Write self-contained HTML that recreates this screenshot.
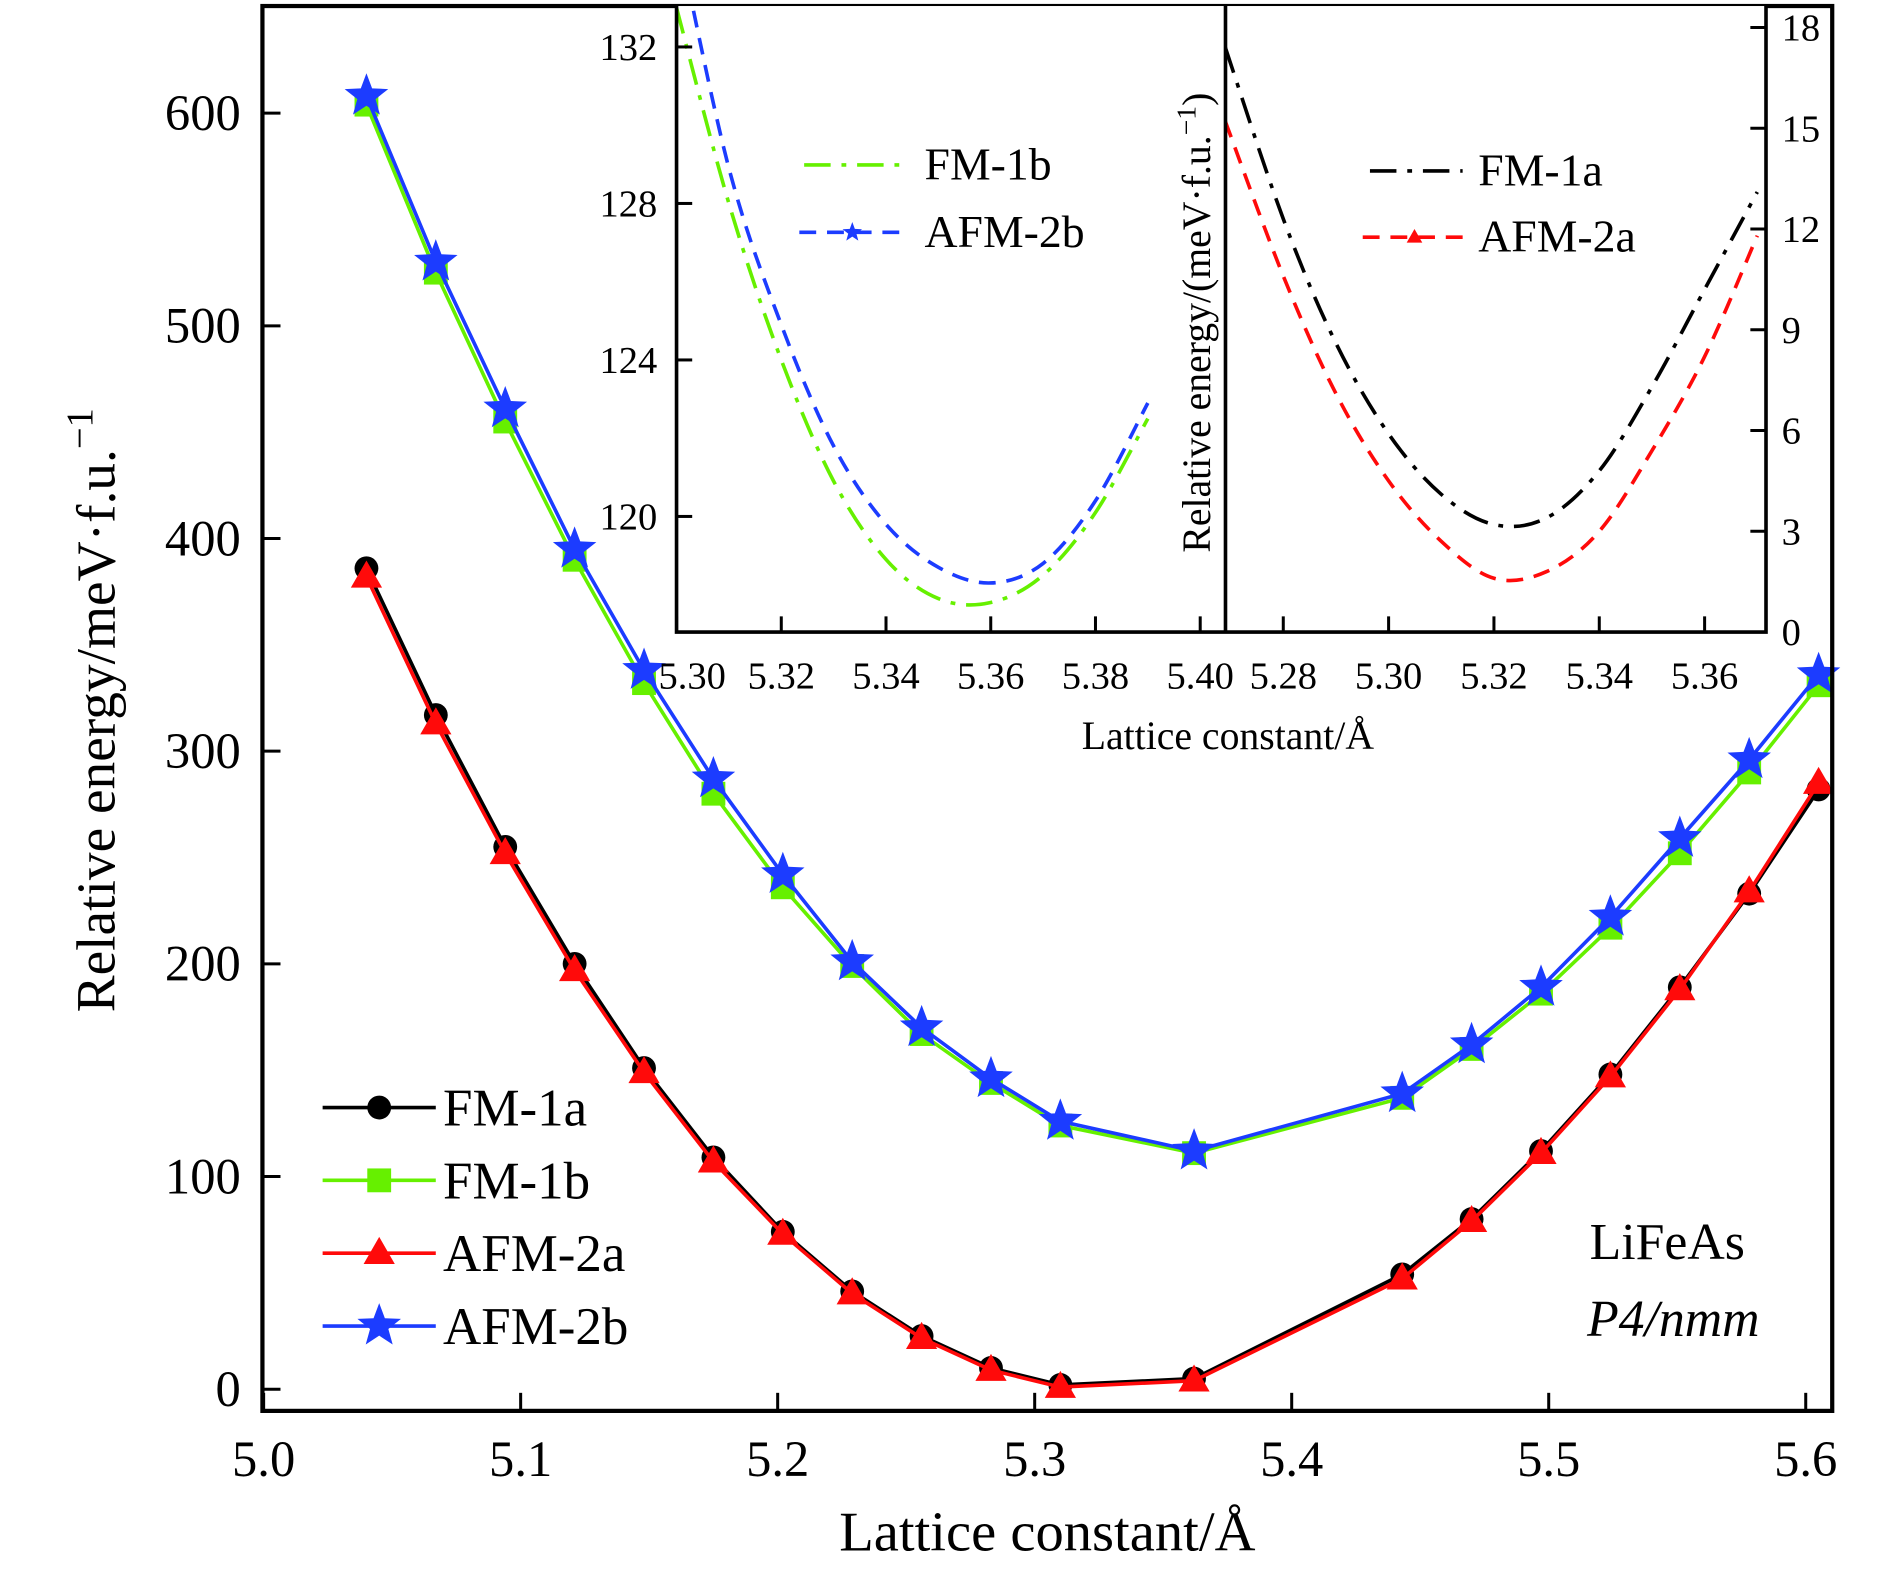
<!DOCTYPE html>
<html><head><meta charset="utf-8"><style>
html,body{margin:0;padding:0;background:#fff;}
svg{display:block;}
text{font-family:"Liberation Serif",serif;fill:#000;}
</style></head><body>
<svg id="chart" width="1890" height="1571" viewBox="0 0 1570 1305" xmlns="http://www.w3.org/2000/svg">
<defs>
<clipPath id="clipL"><rect x="562" y="5" width="456" height="520"/></clipPath>
<clipPath id="clipR"><rect x="1018" y="5" width="449" height="520"/></clipPath>
</defs>
<g id="main"></g>
<g id="inset"></g>
</svg>
<script>
// ---- main chart data ----
const latticeX = [5.04,5.067,5.094,5.121,5.148,5.175,5.202,5.229,5.256,5.283,5.31,5.362,5.443,5.47,5.497,5.524,5.551,5.578,5.605];
const fm1a  = [386,317,255,200,151,109,74,46,25,10,2,5,54,80,112,148,189,233,282];
const afm2a = [382,313,252,197,149,107,73,45,24,9,1,4,52,79,111,147,188,234,285];
const fm1b  = [604,525,455,390,332,280,236,199,167,144,124,111,137,160,186,217,252,290,331];
const afm2b = [608,530,461,395,338,287,242,201,170,146,126,112,139,162,189,222,259,296,336];
const xTicks = [5.0,5.1,5.2,5.3,5.4,5.5,5.6];
const xTickLabels = ["5.0","5.1","5.2","5.3","5.4","5.5","5.6"];
const yTicks = [0,100,200,300,400,500,600];
// ---- inset left data ----
const insetLX = [5.30,5.31,5.32,5.33,5.34,5.35,5.36,5.37,5.38,5.39];
const insetFm1b  = [133.0,128.0,124.0,120.9,118.9,117.9,117.8,118.5,120.1,122.5];
const insetAfm2b = [135.0,128.9,124.9,121.8,119.8,118.7,118.3,118.8,120.4,122.9];
const insetLXTicks = [5.30,5.32,5.34,5.36,5.38,5.40];
const insetLXLabels = ["5.30","5.32","5.34","5.36","5.38","5.40"];
const insetLYTicks = [120,124,128,132];
// ---- inset right data ----
const insetRX1 = [5.269,5.28,5.29,5.30,5.31,5.32,5.33,5.34,5.35,5.36,5.37];
const insetFm1a  = [17.4,12.3,8.6,5.9,4.1,3.2,3.4,4.8,7.3,10.2,13.1];
const insetAfm2a = [15.2,10.6,7.1,4.5,2.7,1.6,1.8,3.0,5.4,8.2,11.8];
const insetRXTicks = [5.28,5.30,5.32,5.34,5.36];
const insetRXLabels = ["5.28","5.30","5.32","5.34","5.36"];
const insetRYTicks = [0,3,6,9,12,15,18];

const NS="http://www.w3.org/2000/svg";
function mk(parent,tag,attrs,txt){const e=document.createElementNS(NS,tag);for(const k in attrs)e.setAttribute(k,attrs[k]);if(txt!==undefined)e.textContent=txt;parent.appendChild(e);return e;}
const main=document.getElementById('main');
const inset=document.getElementById('inset');

const X=v=>219+(v-5.0)*2135;
const Y=v=>1154-v*1.7667;
const L=218,R=1522,T=5,B=1172;

function catmull(pts){let d="M"+pts[0][0]+","+pts[0][1];for(let i=0;i<pts.length-1;i++){const p0=pts[Math.max(i-1,0)],p1=pts[i],p2=pts[i+1],p3=pts[Math.min(i+2,pts.length-1)];d+=" C"+(p1[0]+(p2[0]-p0[0])/6)+","+(p1[1]+(p2[1]-p0[1])/6)+" "+(p2[0]-(p3[0]-p1[0])/6)+","+(p2[1]-(p3[1]-p1[1])/6)+" "+p2[0]+","+p2[1];}return d;}
function star(cx,cy,r){let p=[];for(let i=0;i<10;i++){const a=-Math.PI/2+i*Math.PI/5;const rr=i%2?r*0.42:r;p.push((cx+rr*Math.cos(a)).toFixed(1)+","+(cy+rr*Math.sin(a)).toFixed(1));}return p.join(" ");}
function marker(g,type,cx,cy,s,color){
  let e;
  if(type==='circle')e=mk(g,'circle',{cx:cx,cy:cy,r:s*0.55,fill:color});
  else if(type==='square')e=mk(g,'rect',{x:cx-s*0.55,y:cy-s*0.55,width:s*1.1,height:s*1.1,fill:color});
  else if(type==='tri')e=mk(g,'polygon',{points:(cx)+","+(cy-s*0.75)+" "+(cx-s*0.72)+","+(cy+s*0.5)+" "+(cx+s*0.72)+","+(cy+s*0.5),fill:color});
  else e=mk(g,'polygon',{points:star(cx,cy,s*0.95),fill:color});
  return e;
}
const series=[
  {name:'FM-1a',data:fm1a,color:'#000000',m:'circle'},
  {name:'FM-1b',data:fm1b,color:'#66f000',m:'square'},
  {name:'AFM-2a',data:afm2a,color:'#ff0a0a',m:'tri'},
  {name:'AFM-2b',data:afm2b,color:'#1c3cff',m:'star'}
];
series.forEach(s=>{
  const g=mk(main,'g',{});
  
  
  const pl=mk(g,'polyline',{points:latticeX.map((x,i)=>X(x)+","+Y(s.data[i])).join(" "),fill:'none',stroke:s.color,'stroke-width':3});
  
  
  latticeX.forEach((x,i)=>{
    const m=marker(g,s.m,X(x),Y(s.data[i]),s.m==='star'?20:18,s.color);
    
    
  });
});
const fr=mk(main,'rect',{x:L,y:T,width:R-L,height:B-T,fill:'none',stroke:'#000','stroke-width':3.5});


xTicks.forEach((v,i)=>{
  const t=mk(main,'line',{x1:X(v),x2:X(v),y1:B,y2:B-15,stroke:'#000','stroke-width':2.5});
  
  
  const tl=mk(main,'text',{x:X(v),y:1226,'font-size':42,'text-anchor':'middle'},xTickLabels[i]);
  
  
});
yTicks.forEach(v=>{
  const t=mk(main,'line',{x1:L,x2:L+15,y1:Y(v),y2:Y(v),stroke:'#000','stroke-width':2.5});
  
  
  const tl=mk(main,'text',{x:200,y:Y(v)+14,'font-size':42,'text-anchor':'end'},String(v));
  
  
});
const xt=mk(main,'text',{x:870,y:1288,'font-size':47,'text-anchor':'middle'},'Lattice constant/Å');


const yt=mk(main,'text',{x:0,y:0,'font-size':46,'text-anchor':'middle',transform:'translate(95,590) rotate(-90)'});


yt.innerHTML='Relative energy/meV·f.u.<tspan dy="-18" font-size="32">−1</tspan>';
series.forEach((s,i)=>{
  const y=920+i*60.5;
  const g=mk(main,'g',{});
  
  
  mk(g,'line',{x1:268,x2:362,y1:y,y2:y,stroke:s.color,'stroke-width':3});
  marker(g,s.m,315,y,s.m==='star'?20:18,s.color);
  mk(g,'text',{x:368,y:y+15,'font-size':44},s.name);
});
const c1=mk(main,'text',{x:1385,y:1046,'font-size':43,'text-anchor':'middle'},'LiFeAs');


const c2=mk(main,'text',{x:1390,y:1110,'font-size':43,'text-anchor':'middle','font-style':'italic'},'P4/nmm');



// ---- inset ----
const bg=mk(inset,'rect',{x:562,y:5,width:905,height:520,fill:'#fff'});


const XL=v=>562+(v-5.30)*4350;
const YL=v=>429-(v-120)*32.5;
const XR=v=>1066+(v-5.28)*4375;
const YR=v=>525-v*27.9;
function curve(clip,xs,ys,fx,fy,color,dash,name){
  const p=mk(inset,'path',{d:catmull(xs.map((x,i)=>[fx(x),fy(ys[i])])),fill:'none',stroke:color,'stroke-width':3,'stroke-dasharray':dash,'clip-path':'url(#'+clip+')'});
  
  
}
const dashDot="22 9 4 9", dashed="14 9";
curve('clipL',insetLX,insetFm1b,XL,YL,'#66f000',dashDot,'inset-fm-1b-curve');
curve('clipL',insetLX,insetAfm2b,XL,YL,'#1c3cff',dashed,'inset-afm-2b-curve');
curve('clipR',insetRX1,insetFm1a,XR,YR,'#000',dashDot,'inset-fm-1a-curve');
curve('clipR',insetRX1,insetAfm2a,XR,YR,'#ff0a0a',dashed,'inset-afm-2a-curve');
const ifr=mk(inset,'path',{d:'M562,5 L562,525 L1467,525 L1467,5 M1018,5 L1018,525',fill:'none',stroke:'#000','stroke-width':3});


insetLXTicks.forEach((v,i)=>{
  mk(inset,'line',{x1:XL(v),x2:XL(v),y1:525,y2:512,stroke:'#000','stroke-width':2.5});
  const tl=mk(inset,'text',{x:XL(v)+(i==0?13:0),y:572,'font-size':32,'text-anchor':'middle'},insetLXLabels[i]);
  
  
});
insetLYTicks.forEach(v=>{
  mk(inset,'line',{x1:562,x2:575,y1:YL(v),y2:YL(v),stroke:'#000','stroke-width':2.5});
  const tl=mk(inset,'text',{x:546,y:YL(v)+11,'font-size':32,'text-anchor':'end'},String(v));
  
  
});
insetRXTicks.forEach((v,i)=>{
  mk(inset,'line',{x1:XR(v),x2:XR(v),y1:525,y2:512,stroke:'#000','stroke-width':2.5});
  const tl=mk(inset,'text',{x:XR(v),y:572,'font-size':32,'text-anchor':'middle'},insetRXLabels[i]);
  
  
});
insetRYTicks.forEach(v=>{
  mk(inset,'line',{x1:1467,x2:1454,y1:YR(v),y2:YR(v),stroke:'#000','stroke-width':2.5});
  const tl=mk(inset,'text',{x:1480,y:YR(v)+11,'font-size':32,'text-anchor':'start'},String(v));
  
  
});
const ixt=mk(inset,'text',{x:1020,y:622,'font-size':33,'text-anchor':'middle'},'Lattice constant/Å');


const iyt=mk(inset,'text',{x:0,y:0,'font-size':33,'text-anchor':'middle',transform:'translate(1005,268) rotate(-90)'});


iyt.innerHTML='Relative energy/(meV·f.u.<tspan dy="-12" font-size="23">−1</tspan><tspan dy="12">)</tspan>';
const il=[
  {n:'FM-1b',x1:668,x2:748,y:137,tx:768,c:'#66f000',d:dashDot,m:null},
  {n:'AFM-2b',x1:664,x2:752,y:193,tx:768,c:'#1c3cff',d:dashed,m:'star'},
  {n:'FM-1a',x1:1138,x2:1215,y:142,tx:1228,c:'#000',d:dashDot,m:null},
  {n:'AFM-2a',x1:1132,x2:1218,y:197,tx:1228,c:'#ff0a0a',d:dashed,m:'tri'}
];
il.forEach(e=>{
  const g=mk(inset,'g',{});
  
  
  mk(g,'line',{x1:e.x1,x2:e.x2,y1:e.y,y2:e.y,stroke:e.c,'stroke-width':3,'stroke-dasharray':e.d});
  if(e.m)marker(g,e.m,(e.x1+e.x2)/2,e.y,9,e.c);
  mk(g,'text',{x:e.tx,y:e.y+12,'font-size':38},e.n);
});
</script>
</body></html>
